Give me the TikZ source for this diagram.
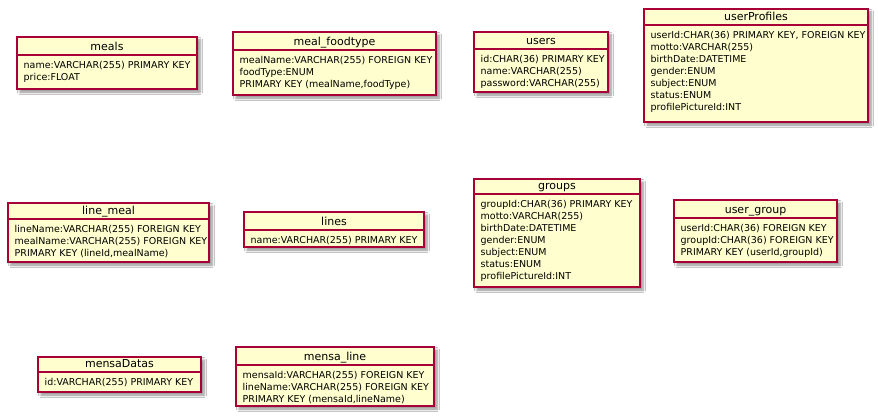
\documentclass[tikz,border=0pt]{standalone}
\usepackage{fontspec}
\setmainfont{DejaVu Sans}
\usetikzlibrary{shadows.blur}
\definecolor{tblfill}{HTML}{FEFECE}
\definecolor{tblborder}{HTML}{A80036}
\newcommand\tstrut{\rule[-3pt]{0pt}{12pt}}
\newcommand\tbl[8]{%
  \path[tblbox] (#2,#3) rectangle (#4,#5);
  \draw[tblline] (#2,#6) -- (#4,#6);
  \node[hdr] (#1) at ({(#2+#4)/2},{#6-4.5}) {#7};
  \node[bdy] (#1-b) at ({#2+6.5},{#6+4}) {#8};
}
\begin{document}
\begin{tikzpicture}[x=1pt,y=-1pt,
  tblbox/.style={fill=tblfill,draw=tblborder,line width=1.2pt,
    blur shadow={shadow xshift=3pt,shadow yshift=-3pt,shadow blur steps=6,shadow opacity=45,shadow blur radius=2.5pt}},
  tblline/.style={draw=tblborder,line width=1.2pt},
  hdr/.style={anchor=base,inner sep=0pt,font=\fontsize{11}{13}\selectfont},
  bdy/.style={anchor=north west,inner sep=0pt,align=left,font=\fontsize{9.5}{12}\selectfont}]
\path[fill=white] (0,0) rectangle (878,417);
\useasboundingbox (0,0) rectangle (878,417);

\tbl{meals}{17}{37}{197}{89}{55}{meals}{\tstrut name:VARCHAR(255) PRIMARY KEY\\\tstrut price:FLOAT}
\tbl{mealfoodtype}{233}{32}{436}{95}{50}{meal\_foodtype}{\tstrut mealName:VARCHAR(255) FOREIGN KEY\\\tstrut foodType:ENUM\\\tstrut PRIMARY KEY (mealName,foodType)}
\tbl{users}{474}{32}{608}{92}{49}{users}{\tstrut id:CHAR(36) PRIMARY KEY\\\tstrut name:VARCHAR(255)\\\tstrut password:VARCHAR(255)}
\tbl{userProfiles}{644}{9}{868}{122}{25}{userProfiles}{\tstrut userId:CHAR(36) PRIMARY KEY, FOREIGN KEY\\\tstrut motto:VARCHAR(255)\\\tstrut birthDate:DATETIME\\\tstrut gender:ENUM\\\tstrut subject:ENUM\\\tstrut status:ENUM\\\tstrut profilePictureId:INT}
\tbl{linemeal}{8}{203}{209}{262}{219}{line\_meal}{\tstrut lineName:VARCHAR(255) FOREIGN KEY\\\tstrut mealName:VARCHAR(255) FOREIGN KEY\\\tstrut PRIMARY KEY (lineId,mealName)}
\tbl{lines}{244}{212}{424}{247}{230}{lines}{\tstrut name:VARCHAR(255) PRIMARY KEY}
\tbl{groups}{474}{179}{640}{287}{194}{groups}{\tstrut groupId:CHAR(36) PRIMARY KEY\\\tstrut motto:VARCHAR(255)\\\tstrut birthDate:DATETIME\\\tstrut gender:ENUM\\\tstrut subject:ENUM\\\tstrut status:ENUM\\\tstrut profilePictureId:INT}
\tbl{usergroup}{674}{200}{837}{262}{218}{user\_group}{\tstrut userId:CHAR(36) FOREIGN KEY\\\tstrut groupId:CHAR(36) FOREIGN KEY\\\tstrut PRIMARY KEY (userId,groupId)}
\tbl{mensaDatas}{38}{357}{201}{392}{372}{mensaDatas}{\tstrut id:VARCHAR(255) PRIMARY KEY}
\tbl{mensaline}{236}{347}{434}{406}{365}{mensa\_line}{\tstrut mensaId:VARCHAR(255) FOREIGN KEY\\\tstrut lineName:VARCHAR(255) FOREIGN KEY\\\tstrut PRIMARY KEY (mensaId,lineName)}
\end{tikzpicture}
\end{document}
